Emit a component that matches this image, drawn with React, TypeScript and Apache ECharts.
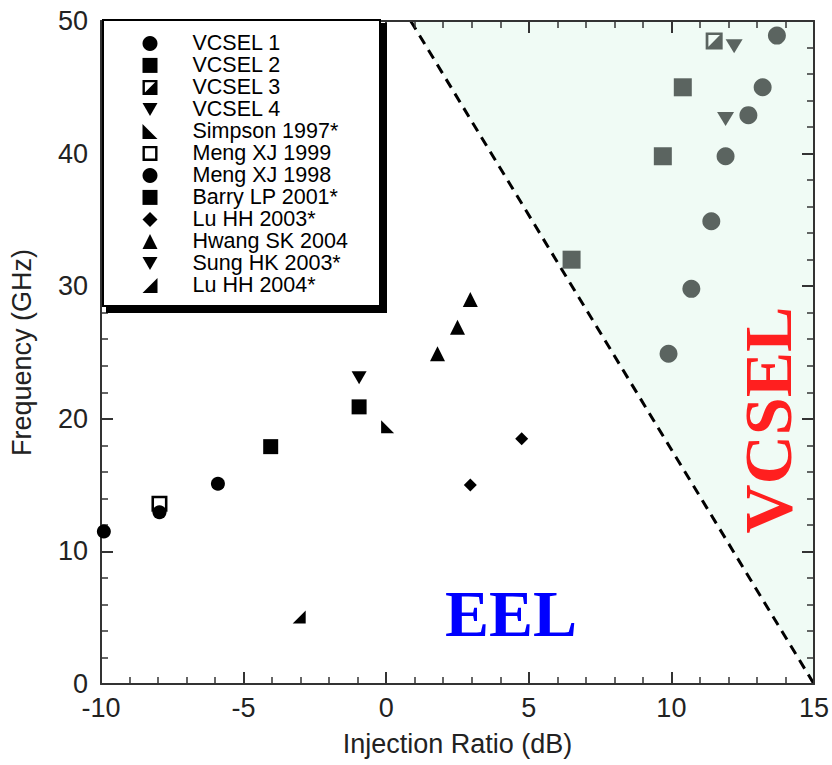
import React, { useEffect, useRef } from "react";
import * as echarts from "echarts";

// ---- data (Injection Ratio dB, Frequency GHz) ----
const vcsel1 = [[9.9, 24.9], [10.7, 29.8], [11.4, 34.9], [11.9, 39.8], [12.7, 42.9], [13.2, 45.0], [13.7, 48.9]];
const vcsel2 = [[6.5, 32.0], [9.7, 39.8], [10.4, 45.0]];
const vcsel3 = [[11.5, 48.5]];
const vcsel4 = [[11.9, 42.6], [12.2, 48.1]];
const simpson1997 = [[0.05, 19.4]];
const mengXJ1999 = [[-7.95, 13.6]];
const mengXJ1998 = [[-9.9, 11.5], [-7.95, 12.95], [-5.9, 15.1]];
const barryLP2001 = [[-4.05, 17.9], [-0.95, 20.9]];
const luHH2003 = [[2.95, 15.0], [4.75, 18.5]];
const hwangSK2004 = [[1.8, 24.9], [2.5, 26.9], [2.95, 29.0]];
const sungHK2003 = [[-0.95, 23.1]];
const luHH2004 = [[-3.05, 5.05]];
const boundary = [[0.86, 50], [15, 0]];

const seriesNames = [
  "VCSEL 1", "VCSEL 2", "VCSEL 3", "VCSEL 4", "Simpson 1997*", "Meng XJ 1999",
  "Meng XJ 1998", "Barry LP 2001*", "Lu HH 2003*", "Hwang SK 2004", "Sung HK 2003*", "Lu HH 2004*",
];

const downTri = "path://M0,0 L10,0 L5,8.66 Z";
const simpsonTri = "path://M0,0 L0,10 L10,10 Z";
const luTri = "path://M10,0 L10,10 L0,10 Z";
const openSquare = "path://M0,0 L10,0 L10,10 L0,10 Z M1.6,1.6 L1.6,8.4 L8.4,8.4 L8.4,1.6 Z";
const halfSquare = "path://M0,0 L10,0 L10,10 L0,10 Z M1.6,1.6 L1.6,8.4 L8.4,1.6 Z";

const GREY = "#5b6460";
const AXIS = "#333";
const FONT = "Liberation Sans, Arial, Helvetica, sans-serif";

export default function App() {
  const ref = useRef<HTMLDivElement>(null);
  useEffect(() => {
    const chart = echarts.init(ref.current!, null, { renderer: "svg" });
    const mk = (name: string, data: number[][], symbol: string, size: any, color: string) => ({
      name,
      type: "scatter",
      data,
      symbol,
      symbolSize: size,
      z: 5,
      itemStyle: { color, opacity: 1 },
    });
    const axisCommon = {
      type: "value",
      axisLine: { show: true, onZero: false, lineStyle: { color: AXIS, width: 2 } },
      axisTick: { show: true, inside: true, length: 12, lineStyle: { color: AXIS, width: 2 } },
      minorTick: { show: true, splitNumber: 5, length: 7, lineStyle: { color: AXIS, width: 1.5 } },
      splitLine: { show: false },
      z: 3,
    };
    chart.setOption({
      animation: false,
      backgroundColor: "#fff",
      grid: { left: 101, right: 13, top: 21, bottom: 81 },
      xAxis: [
        {
          ...axisCommon,
          min: -10, max: 15, interval: 5,
          position: "bottom",
          axisLabel: { fontSize: 27, color: "#222", fontFamily: FONT, margin: 10 },
          name: "Injection Ratio (dB)",
          nameLocation: "middle",
          nameGap: 46,
          nameTextStyle: { fontSize: 27, color: "#222", fontFamily: FONT },
        },
        {
          ...axisCommon,
          min: -10, max: 15, interval: 5,
          position: "top",
          axisLabel: { show: false },
        },
      ],
      yAxis: [
        {
          ...axisCommon,
          min: 0, max: 50, interval: 10,
          position: "left",
          axisLabel: { fontSize: 27, color: "#222", fontFamily: FONT, margin: 13 },
          name: "Frequency (GHz)",
          nameLocation: "middle",
          nameGap: 66,
          nameTextStyle: { fontSize: 27, color: "#222", fontFamily: FONT },
        },
        {
          ...axisCommon,
          min: 0, max: 50, interval: 10,
          position: "right",
          axisLabel: { show: false },
        },
      ],
      legend: {
        orient: "vertical",
        left: 142.5,
        top: 32.4,
        padding: 0,
        itemGap: 0,
        itemWidth: 15,
        itemHeight: 15,
        selectedMode: false,
        z: 6,
        textStyle: { fontSize: 21.5, color: "#000", fontFamily: FONT, lineHeight: 21.7, padding: [0, 0, 0, 30] },
        data: seriesNames.map((n) => ({ name: n, itemStyle: { color: "#000" } })),
      },
      graphic: [
        { type: "rect", z: 4, shape: { x: 106, y: 23, width: 281, height: 290 }, style: { fill: "#000" } },
        { type: "rect", z: 4, shape: { x: 103, y: 20, width: 277, height: 286 }, style: { fill: "#fff", stroke: "#000", lineWidth: 2 } },
        {
          type: "text", z: 10, x: 511, y: 613,
          style: { text: "EEL", fill: "#0000ff", font: "bold 66px 'Liberation Serif', 'Times New Roman', serif", align: "center", verticalAlign: "middle" },
        },
        {
          type: "text", z: 10, x: 768, y: 420, rotation: Math.PI / 2,
          style: { text: "VCSEL", fill: "#ff1f1f", font: "bold 68px 'Liberation Serif', 'Times New Roman', serif", align: "center", verticalAlign: "middle" },
        },
      ],
      series: [
        {
          name: "boundary",
          type: "line",
          data: boundary,
          symbol: "none",
          z: 1,
          lineStyle: { color: "#000", width: 3, type: [10, 7] },
          areaStyle: { origin: "end", color: "#f0fbf5", opacity: 1 },
          silent: true,
        },
        mk("VCSEL 1", vcsel1, "circle", 18, GREY),
        mk("VCSEL 2", vcsel2, "rect", 18, GREY),
        mk("VCSEL 3", vcsel3, halfSquare, 17, GREY),
        mk("VCSEL 4", vcsel4, downTri, [17, 14], GREY),
        mk("Simpson 1997*", simpson1997, simpsonTri, 13, "#000"),
        mk("Meng XJ 1999", mengXJ1999, openSquare, 16, "#000"),
        mk("Meng XJ 1998", mengXJ1998, "circle", 14, "#000"),
        mk("Barry LP 2001*", barryLP2001, "rect", 15, "#000"),
        mk("Lu HH 2003*", luHH2003, "diamond", 13, "#000"),
        mk("Hwang SK 2004", hwangSK2004, "triangle", 15, "#000"),
        mk("Sung HK 2003*", sungHK2003, downTri, [15, 13], "#000"),
        mk("Lu HH 2004*", luHH2004, luTri, 13, "#000"),
      ],
    });
    return () => chart.dispose();
  }, []);
  return <div ref={ref} style={{ position: "absolute", left: 0, top: 0, width: 832, height: 765 }} />;
}
